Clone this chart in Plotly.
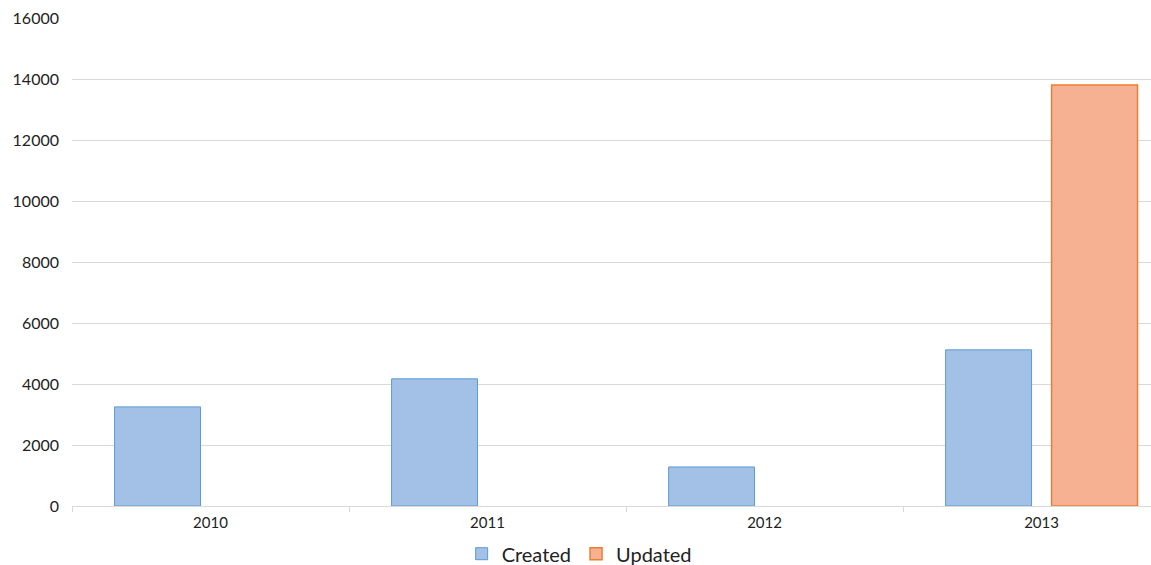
import plotly.graph_objects as go

years = ["2010", "2011", "2012", "2013"]
created = [3250, 4170, 1280, 5120]
updated = [None, None, None, 13800]

fig = go.Figure()
fig.add_trace(go.Bar(
    x=years, y=created, name="Created",
    marker=dict(color="#a3c1e6", line=dict(color="#5b9bd5", width=1)),
))
fig.add_trace(go.Bar(
    x=years, y=updated, name="Updated",
    marker=dict(color="#f6b192", line=dict(color="#ed7d31", width=1.5)),
))

fig.update_layout(
    width=1151, height=565,
    margin=dict(l=72, r=0, t=18, b=59, autoexpand=False),
    paper_bgcolor="white", plot_bgcolor="white",
    barmode="group", bargap=0.235, bargroupgap=0.189,
    font=dict(family="Lato, sans-serif", color="#222"),
    showlegend=True,
    legend=dict(orientation="h", x=0.47, xanchor="center", yref="container",
                y=0.02, yanchor="middle",
                font=dict(size=20, color="#222"), itemwidth=30, tracegroupgap=0),
    xaxis=dict(
        type="category", range=[-0.5, 3.395],
        showline=True, linecolor="#d9d9d9", linewidth=1,
        ticks="outside", tickson="boundaries", ticklen=5, tickcolor="#d9d9d9",
        showgrid=False, tickfont=dict(size=15), ticklabelstandoff=3,
    ),
    yaxis=dict(
        range=[0, 16000], dtick=2000, tickformat="d", showgrid=True, gridcolor="#d9d9d9",
        zeroline=False, ticks="", tickfont=dict(size=16), ticklabelstandoff=12,
    ),
)

fig.write_html("out.html")
